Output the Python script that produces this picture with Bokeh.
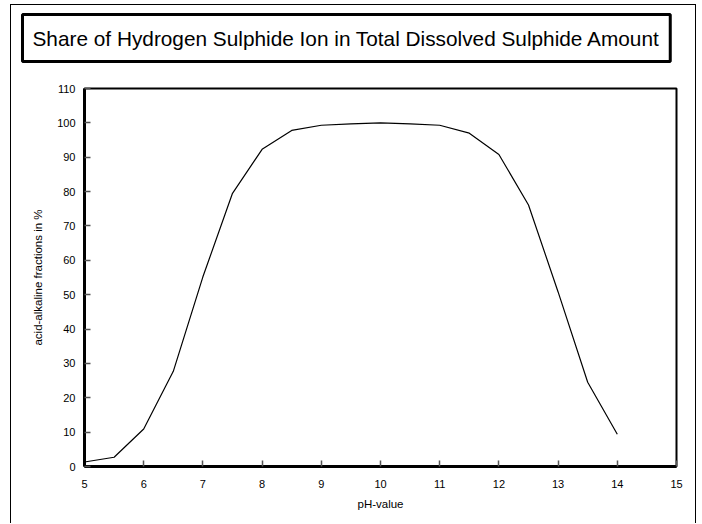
from bokeh.plotting import figure
from bokeh.models import Range1d, FixedTicker, Title
from bokeh.embed import file_html
from bokeh.resources import INLINE

# data
ph = [5, 5.5, 6, 6.5, 7, 7.5, 8, 8.5, 9, 9.5, 10, 10.5, 11, 11.5, 12, 12.5, 13, 13.5, 14]
hs_share = [1.3, 2.7, 10.9, 27.7, 55.2, 79.5, 92.3, 97.8, 99.3, 99.7, 100.0, 99.7, 99.3,
            97.0, 90.8, 76.1, 50.8, 24.5, 9.4]
x_ticks = [5, 6, 7, 8, 9, 10, 11, 12, 13, 14, 15]
y_ticks = [0, 10, 20, 30, 40, 50, 60, 70, 80, 90, 100, 110]

title_text = "Share of Hydrogen Sulphide Ion in Total Dissolved Sulphide Amount"
x_label = "pH-value"
y_label = "acid-alkaline fractions in %"

FONT = "Liberation Sans"

W, H = 686, 519
p = figure(width=W, height=H, output_backend="svg", toolbar_location=None, title=None,
           x_range=Range1d(5, 15), y_range=Range1d(0, 110),
           min_border_left=73, min_border_right=21, min_border_top=83, min_border_bottom=58,
           styles={"border-left": "1px solid black", "border-top": "1px solid black",
                   "border-right": "1px solid black", "margin-left": "10px",
                   "margin-top": "4px"})
p.background_fill_color = "white"
p.border_fill_color = "white"
p.grid.visible = False
p.outline_line_color = "black"
p.outline_line_width = 2

# spacer between the frame and the title box
p.add_layout(Title(text=" ", text_font_size="1px", standoff=22), "above")
# title in a framed box
p.add_layout(Title(text=title_text, align="left", offset=-62, text_font=FONT,
                   text_font_size="20.8px", text_font_style="normal", text_color="black",
                   border_line_color="black", border_line_width=3,
                   background_fill_color="white", padding=(10, 12), standoff=4), "above")

for ax in (p.xaxis[0], p.yaxis[0]):
    ax.axis_line_width = 3
    ax.axis_line_color = "black"
    ax.major_tick_in = 6
    ax.major_tick_out = 0
    ax.major_tick_line_color = "#555555"
    ax.major_tick_line_width = 1.5
    ax.minor_tick_line_color = None
    ax.major_label_text_font = FONT
    ax.major_label_text_font_size = "11px"
    ax.major_label_text_color = "black"
    ax.axis_label_text_font = FONT
    ax.axis_label_text_font_size = "11.5px"
    ax.axis_label_text_font_style = "normal"
    ax.axis_label_text_color = "black"

p.xaxis[0].ticker = FixedTicker(ticks=x_ticks)
p.yaxis[0].ticker = FixedTicker(ticks=y_ticks)
p.xaxis[0].major_label_standoff = 13
p.yaxis[0].major_label_standoff = 9
p.xaxis[0].axis_label = x_label
p.yaxis[0].axis_label = y_label
p.xaxis[0].axis_label_standoff = 7
p.yaxis[0].axis_label_standoff = 10

p.line(ph, hs_share, line_color="black", line_width=1.2)

open("out.html", "w").write(file_html(p, INLINE))
